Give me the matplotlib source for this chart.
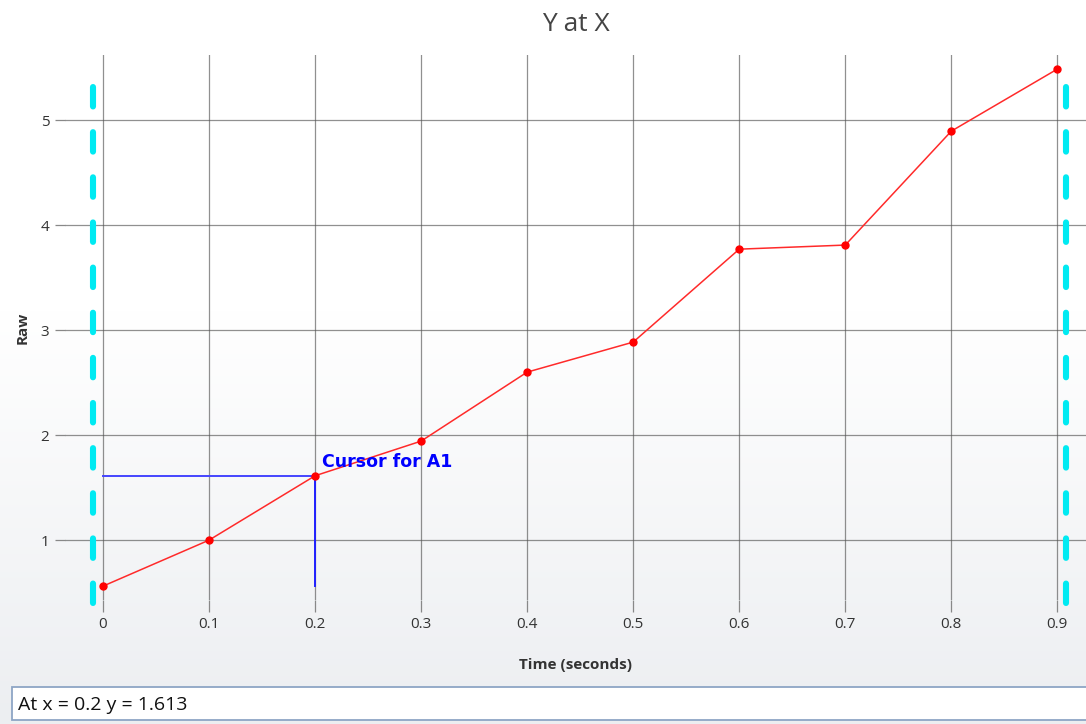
"""Y at X chart with cursor readout and two cyan limit markers."""
import matplotlib

matplotlib.use("Agg")
import matplotlib.pyplot as plt
import numpy as np
from matplotlib.patches import Rectangle

plt.rcParams["font.family"] = ["Open Sans", "DejaVu Sans"]
plt.rcParams["lines.scale_dashes"] = False

# data
time_s = [0.0, 0.1, 0.2, 0.3, 0.4, 0.5, 0.6, 0.7, 0.8, 0.9]
raw = [0.562, 1.0, 1.613, 1.943, 2.6, 2.886, 3.771, 3.81, 4.895, 5.486]
x_ticks = [0, 0.1, 0.2, 0.3, 0.4, 0.5, 0.6, 0.7, 0.8, 0.9]
x_tick_labels = ["0", "0.1", "0.2", "0.3", "0.4", "0.5", "0.6", "0.7", "0.8", "0.9"]
y_ticks = [1, 2, 3, 4, 5]
cursor_x = 0.2
cursor_y = 1.613
limit_x = [-0.0095, 0.9085]
limit_y = [0.40, 5.40]

fig = plt.figure(figsize=(10.86, 7.24), dpi=100)

# background gradient (white at top, light grey towards bottom)
bg = fig.add_axes([0, 0, 1, 1], zorder=-10)
h = 724
rows = np.ones(h)
start = 310
rows[start:] = 1 - np.arange(h - start) / (h - start)
top_c = np.array([1.0, 1.0, 1.0])
bot_c = np.array([0xec, 0xee, 0xf1]) / 255
grad = rows[:, None] * top_c + (1 - rows[:, None]) * bot_c
bg.imshow(grad[:, None, :], aspect="auto", extent=[0, 1, 0, 1], origin="upper")
bg.set_axis_off()

ax = fig.add_axes([65 / 1086, 1 - 600 / 724, 1 - 65 / 1086, (600 - 55) / 724])
ax.patch.set_alpha(0)
for s in ax.spines.values():
    s.set_visible(False)

ax.set_xlim(-0.0358, 0.927)
ax.set_ylim(0.43, 5.62)
ax.set_xticks(x_ticks)
ax.set_xticklabels(x_tick_labels)
ax.set_yticks(y_ticks)
ax.grid(True, color="#555555", alpha=0.65, lw=0.9)
ax.tick_params(axis="x", length=8.6, width=0.9, color="#888888", labelsize=11,
               labelcolor="#333333", pad=4)
ax.tick_params(axis="y", length=7.2, width=0.9, color="#888888", labelsize=11,
               labelcolor="#333333", pad=4)
ax.set_axisbelow(True)

ax.set_xlabel("Time (seconds)", fontsize=11, fontweight="bold", color="#333333",
              labelpad=18)
ax.set_ylabel("Raw", fontsize=11, fontweight="bold", color="#333333", labelpad=8)
ax.set_title("Y at X", fontsize=19, color="#444444", pad=17)

# cyan limit markers
for lx in limit_x:
    ax.plot([lx, lx], limit_y, color="#00eaf2", lw=4.4, solid_capstyle="round",
            dash_capstyle="round", linestyle=(0, (14, 18.5)), clip_on=False, zorder=2)

# data
ax.plot(time_s, raw, color="#ff2a2a", lw=1.1, marker="o", ms=5, mfc="red",
        mec="red", zorder=4)

# cursor
ax.plot([time_s[0], cursor_x], [cursor_y, cursor_y], color="#4545ff", lw=1.4, zorder=3)
ax.plot([cursor_x, cursor_x], [cursor_y, min(raw)], color="#2020ff", lw=1.4, zorder=3)
ax.text(cursor_x + 0.0062, cursor_y + 0.13, "Cursor for A1", color="#0000ff",
        fontsize=12.5, fontweight="heavy", family=["DejaVu Sans"], va="center", zorder=5)

# readout box
fig.patches.append(Rectangle((12 / 1086, 1 - 720 / 724), 1.0, 33 / 724,
                             transform=fig.transFigure, facecolor="white",
                             edgecolor="#8da5c5", lw=1.3, zorder=1))
fig.text(18 / 1086, 1 - 705 / 724, f"At x = {cursor_x} y = {cursor_y}", fontsize=14,
         color="#111111", va="center", ha="left")

fig.savefig("out.png", dpi=100)
